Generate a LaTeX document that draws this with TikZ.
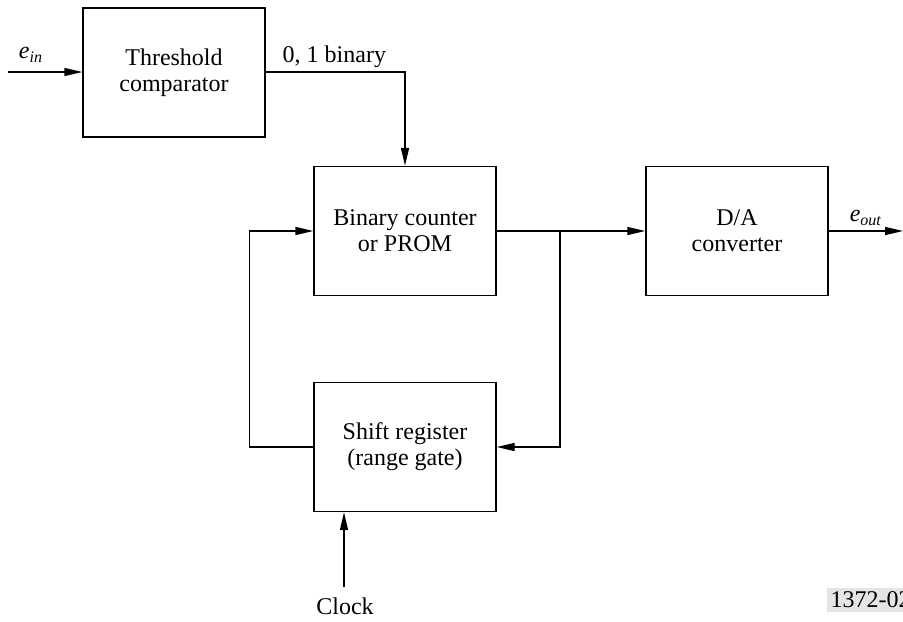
\documentclass[tikz,border=0pt]{standalone}
\usepackage{fontspec}
\setmainfont{Liberation Serif}
\usetikzlibrary{arrows.meta}

\begin{document}
\begin{tikzpicture}[x=0.5pt,y=-0.5pt, line width=0.7pt,
    >={Triangle[length=9pt,width=4pt]},
    font=\fontsize{12}{13}\selectfont]

      \clip (0,0) rectangle (903,621);

      \begin{scope}[every node/.style={draw, align=center, inner sep=0pt,
          minimum width=91pt, minimum height=64.5pt}]
        \node (thresh) at (174,72.5) {Threshold\\comparator};
        \node (counter) at (405,231) {Binary counter\\or PROM};
        \node (dac) at (737,231) {D/A\\converter};
        \node (shiftreg) at (405,447) {Shift register\\(range gate)};
      \end{scope}

      \coordinate (ein) at (8,72);
      \coordinate (eout) at (903,231);
      \coordinate (branch) at (560,231);
      \coordinate (clk) at (344,587);

      \begin{scope}[every node/.style={inner sep=0pt}]
        \node (einlabel) at (31,55) {\textit{e}\textsubscript{\textit{in}}};
        \node[anchor=west] (binlabel) at (282,57) {0, 1 binary};
        \node (eoutlabel) at (866,218) {\textit{e}\textsubscript{\textit{out}}};
        \node (clklabel) at (345,606) {Clock};
        \node[anchor=west, fill=black!10, inner sep=2pt] (figno) at (826,600) {1372-02};
      \end{scope}

      \draw[->] (ein) -- (ein -| thresh.west);
      \draw[->] (thresh.east |- ein) -| (counter.north);
      \draw[->] (counter.east) -- (dac.west);
      \draw[->] (dac.east) -- (eout);
      \draw[->] (branch) |- (shiftreg.east);
      \draw[->] (shiftreg.west) -- ++(-64,0) |- (counter.west);
      \draw[->] (clk) -- (clk |- shiftreg.south);

    \end{tikzpicture}
\end{document}
